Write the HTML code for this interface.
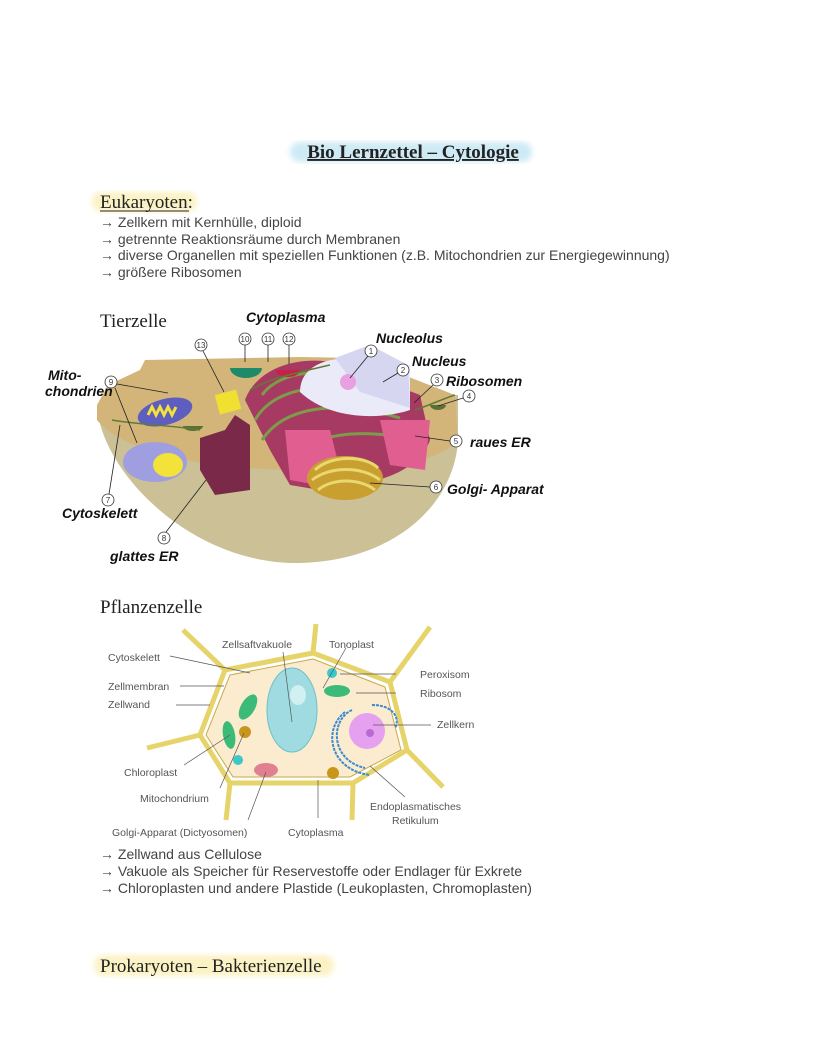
<!DOCTYPE html>
<html><head><meta charset="utf-8"><style>
html,body{margin:0;padding:0;background:#fff;}
svg{display:block}
.s{font-family:"Liberation Serif",serif;fill:#222}
.a{font-family:"Liberation Sans",sans-serif;fill:#444;font-size:14px}
.h{font-family:"Liberation Sans",sans-serif;font-weight:bold;fill:#111;font-size:14px;font-style:italic}
.p{font-family:"Liberation Sans",sans-serif;fill:#555;font-size:10.5px}
.n{font-family:"Liberation Sans",sans-serif;fill:#333;font-size:8px;text-anchor:middle}
</style></head><body>
<svg width="828" height="1056" viewBox="0 0 828 1056" xmlns="http://www.w3.org/2000/svg">
<defs>
<filter id="bl"><feGaussianBlur stdDeviation="3"/></filter>
</defs>
<rect x="290" y="142" width="242" height="20" rx="10" fill="#cdeaf5" filter="url(#bl)"/>
<text x="413" y="158" class="s" font-size="19" font-weight="bold" text-anchor="middle" text-decoration="underline">Bio Lernzettel – Cytologie</text>
<rect x="92" y="192" width="105" height="20" rx="10" fill="#fbf2c4" filter="url(#bl)"/>
<text x="100" y="208" class="s" font-size="19">Eukaryoten:</text>
<line x1="100" y1="211" x2="189" y2="211" stroke="#222" stroke-width="1"/>
<text x="100" y="227" class="a">→ Zellkern mit Kernhülle, diploid</text>
<text x="100" y="244" class="a">→ getrennte Reaktionsräume durch Membranen</text>
<text x="100" y="260" class="a">→ diverse Organellen mit speziellen Funktionen (z.B. Mitochondrien zur Energiegewinnung)</text>
<text x="100" y="277" class="a">→ größere Ribosomen</text>
<text x="100" y="327" class="s" font-size="19">Tierzelle</text>
<g>
<path d="M97,405 C100,470 190,565 300,563 C400,560 455,500 458,440 L458,395 L97,405Z" fill="#cbc096"/>
<path d="M97,405 L108,385 L140,370 L145,360 L300,357 L360,358 L455,395 L458,440 C440,460 400,470 300,470 C200,470 120,450 97,420Z" fill="#d3b57a"/>
<path d="M245,400 C260,360 320,350 360,372 L420,395 L430,440 C420,470 380,485 320,490 L290,485 L270,450 Z" fill="#a63a62"/>
<path d="M262,395 C280,370 330,365 365,385 M255,420 C275,385 330,380 380,400 M262,440 C285,405 340,400 400,418 M290,462 C310,432 360,428 420,440" stroke="#7d9b4a" stroke-width="3" fill="none"/>
<path d="M285,430 L330,430 L345,490 L290,480Z" fill="#e05e90"/>
<path d="M380,420 L430,420 L425,470 L390,465Z" fill="#e05e90"/>
<path d="M300,392 C300,365 330,355 360,360 L410,365 L410,410 C380,420 330,420 300,392Z" fill="#ebeaf8"/>
<path d="M335,358 L370,345 L408,365 L410,408 L360,392Z" fill="#d7d6f0"/>
<circle cx="348" cy="382" r="8" fill="#e9a0e0"/>
<ellipse cx="345" cy="478" rx="38" ry="22" fill="#c9a030"/>
<path d="M315,470 C330,455 365,455 378,468 M312,480 C330,466 362,466 380,480 M318,490 C332,478 360,478 375,490" stroke="#e9d870" stroke-width="3" fill="none"/>
<path d="M200,438 L225,430 L235,415 L250,425 L250,490 L215,495 L200,470Z" fill="#7a2a48"/>
<ellipse cx="165" cy="412" rx="28" ry="13" fill="#5d5ec0" transform="rotate(-15 165 412)"/>
<path d="M148,415 l4,-8 l4,8 l4,-8 l4,8 l4,-8 l4,8 l4,-8" stroke="#f2e23a" stroke-width="3" fill="none"/>
<ellipse cx="155" cy="462" rx="32" ry="20" fill="#9e9ee0"/>
<ellipse cx="168" cy="465" rx="15" ry="12" fill="#f2e23a"/>
<rect x="217" y="392" width="22" height="20" fill="#f0e030" transform="rotate(-15 228 402)"/>
<path d="M230,368 a16,10 0 0 0 32,0Z" fill="#1f8a6a"/>
<path d="M276,370 a12,7 0 0 0 24,0Z" fill="#c8204a"/>
<path d="M430,405 a8,5 0 0 0 16,0Z" fill="#5a7035"/>
<path d="M183,426 a10,5 0 0 0 20,0Z" fill="#5a7035"/>
<path d="M250,390 C270,378 300,372 330,365 M112,420 C140,425 170,425 200,430 M415,410 C430,405 445,398 455,395" stroke="#607a35" stroke-width="1.5" fill="none"/>
<g fill="#fff" stroke="#333" stroke-width="0.8">
<circle cx="371" cy="351" r="6"/><circle cx="403" cy="370" r="6"/><circle cx="437" cy="380" r="6"/><circle cx="469" cy="396" r="6"/>
<circle cx="456" cy="441" r="6"/><circle cx="436" cy="487" r="6"/><circle cx="108" cy="500" r="6"/><circle cx="164" cy="538" r="6"/>
<circle cx="111" cy="382" r="6"/><circle cx="245" cy="339" r="6"/><circle cx="268" cy="339" r="6"/><circle cx="289" cy="339" r="6"/><circle cx="201" cy="345" r="6"/>
</g>
<g class="n"><text x="371" y="354">1</text><text x="403" y="373">2</text><text x="437" y="383">3</text><text x="469" y="399">4</text><text x="456" y="444">5</text><text x="436" y="490">6</text><text x="108" y="503">7</text><text x="164" y="541">8</text><text x="111" y="385">9</text><text x="245" y="342">10</text><text x="268" y="342">11</text><text x="289" y="342">12</text><text x="201" y="348">13</text></g>
<g stroke="#222" stroke-width="0.8" fill="none">
<line x1="368" y1="356" x2="350" y2="378"/><line x1="398" y1="373" x2="383" y2="382"/><line x1="433" y1="385" x2="414" y2="403"/><line x1="463" y1="398" x2="438" y2="406"/>
<line x1="450" y1="441" x2="415" y2="436"/><line x1="430" y1="487" x2="370" y2="483"/><line x1="109" y1="494" x2="120" y2="425"/><line x1="166" y1="532" x2="206" y2="480"/>
<line x1="117" y1="384" x2="168" y2="393"/><line x1="115" y1="388" x2="137" y2="443"/><line x1="245" y1="345" x2="245" y2="362"/><line x1="268" y1="345" x2="268" y2="362"/><line x1="289" y1="345" x2="289" y2="364"/><line x1="203" y1="351" x2="224" y2="392"/>
</g>
<text x="246" y="322" class="h">Cytoplasma</text>
<text x="376" y="343" class="h">Nucleolus</text>
<text x="412" y="366" class="h">Nucleus</text>
<text x="446" y="386" class="h">Ribosomen</text>
<text x="48" y="380" class="h">Mito-</text>
<text x="45" y="396" class="h">chondrien</text>
<text x="470" y="447" class="h">raues ER</text>
<text x="447" y="494" class="h">Golgi- Apparat</text>
<text x="62" y="518" class="h">Cytoskelett</text>
<text x="110" y="561" class="h">glattes ER</text>
</g>
<text x="100" y="613" class="s" font-size="19">Pflanzenzelle</text>
<g stroke="#e6d46a" stroke-width="5" fill="none" stroke-linejoin="round">
<line x1="225" y1="670" x2="183" y2="630"/><line x1="313" y1="653" x2="316" y2="624"/><line x1="390" y1="682" x2="430" y2="627"/>
<line x1="407" y1="750" x2="443" y2="787"/><line x1="353" y1="783" x2="352" y2="820"/><line x1="230" y1="783" x2="226" y2="820"/><line x1="200" y1="735" x2="147" y2="748"/>
<polygon points="225,670 313,653 390,682 407,750 353,783 230,783 200,735"/>
</g>
<polygon points="230,675 313,659 385,687 401,750 350,777 233,777 206,735" fill="#fbecd0" stroke="#c9a84a" stroke-width="1"/>
<ellipse cx="292" cy="710" rx="25" ry="42" fill="#9fdbe0" stroke="#6cc0c8"/>
<ellipse cx="298" cy="695" rx="8" ry="10" fill="#d0f0f2"/>
<ellipse cx="248" cy="707" rx="7" ry="14" fill="#3cbb78" transform="rotate(30 248 707)"/>
<ellipse cx="229" cy="735" rx="6" ry="14" fill="#3cbb78" transform="rotate(-10 229 735)"/>
<ellipse cx="337" cy="691" rx="13" ry="6" fill="#3cbb78"/>
<circle cx="245" cy="732" r="6" fill="#c9961c"/>
<circle cx="333" cy="773" r="6" fill="#c9961c"/>
<circle cx="238" cy="760" r="5" fill="#3cc8c8"/>
<circle cx="332" cy="673" r="5" fill="#3cc8c8"/>
<circle cx="367" cy="731" r="18" fill="#e6a0f0"/>
<circle cx="370" cy="733" r="4" fill="#b86ad0"/>
<path d="M352,710 C330,720 330,760 365,768 M345,712 C322,730 330,770 370,775 M372,705 C395,705 400,720 395,728" stroke="#3c8ad0" stroke-width="2" fill="none" stroke-dasharray="3,1"/>
<ellipse cx="266" cy="770" rx="12" ry="7" fill="#e08090"/>
<g stroke="#555" stroke-width="0.7">
<line x1="170" y1="656" x2="250" y2="673"/><line x1="180" y1="686" x2="224" y2="686"/><line x1="176" y1="705" x2="210" y2="705"/>
<line x1="283" y1="652" x2="292" y2="722"/><line x1="346" y1="648" x2="323" y2="688"/><line x1="340" y1="674" x2="396" y2="674"/><line x1="356" y1="693" x2="396" y2="693"/><line x1="373" y1="725" x2="431" y2="725"/>
<line x1="184" y1="765" x2="230" y2="735"/><line x1="220" y1="788" x2="244" y2="733"/><line x1="248" y1="820" x2="266" y2="772"/><line x1="318" y1="818" x2="318" y2="780"/><line x1="405" y1="797" x2="370" y2="766"/>
</g>
<g class="p">
<text x="108" y="661">Cytoskelett</text><text x="108" y="690">Zellmembran</text><text x="108" y="708">Zellwand</text>
<text x="222" y="648">Zellsaftvakuole</text><text x="329" y="648">Tonoplast</text>
<text x="420" y="678">Peroxisom</text><text x="420" y="697">Ribosom</text><text x="437" y="728">Zellkern</text>
<text x="124" y="776">Chloroplast</text><text x="140" y="802">Mitochondrium</text>
<text x="370" y="810">Endoplasmatisches</text><text x="392" y="824">Retikulum</text>
<text x="112" y="836">Golgi-Apparat (Dictyosomen)</text><text x="288" y="836">Cytoplasma</text>
</g>
<text x="100" y="859" class="a">→ Zellwand aus Cellulose</text>
<text x="100" y="876" class="a">→ Vakuole als Speicher für Reservestoffe oder Endlager für Exkrete</text>
<text x="100" y="893" class="a">→ Chloroplasten und andere Plastide (Leukoplasten, Chromoplasten)</text>
<rect x="94" y="955" width="240" height="21" rx="10" fill="#fbf2c4" filter="url(#bl)"/>
<text x="100" y="972" class="s" font-size="19">Prokaryoten – Bakterienzelle</text>
</svg>
</body></html>
